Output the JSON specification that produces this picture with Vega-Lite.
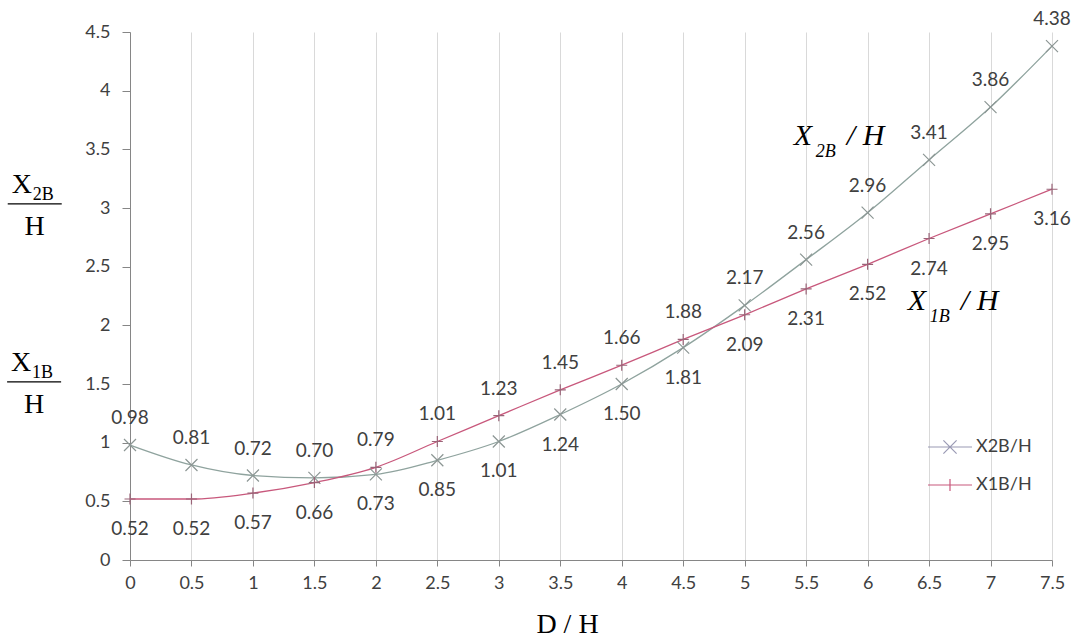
{
  "$schema": "https://vega.github.io/schema/vega-lite/v6.json",
  "width": 922,
  "height": 528,
  "autosize": {"type": "none"},
  "padding": {"left": 130, "top": 32, "right": 32, "bottom": 79},
  "background": "white",
  "config": {"view": {"stroke": null}, "font": "Lato"},
  "datasets": {
    "series": [
      {"d": 0, "series": "X2B/H", "v": 0.98}, {"d": 0.5, "series": "X2B/H", "v": 0.81},
      {"d": 1, "series": "X2B/H", "v": 0.72}, {"d": 1.5, "series": "X2B/H", "v": 0.70},
      {"d": 2, "series": "X2B/H", "v": 0.73}, {"d": 2.5, "series": "X2B/H", "v": 0.85},
      {"d": 3, "series": "X2B/H", "v": 1.01}, {"d": 3.5, "series": "X2B/H", "v": 1.24},
      {"d": 4, "series": "X2B/H", "v": 1.50}, {"d": 4.5, "series": "X2B/H", "v": 1.81},
      {"d": 5, "series": "X2B/H", "v": 2.17}, {"d": 5.5, "series": "X2B/H", "v": 2.56},
      {"d": 6, "series": "X2B/H", "v": 2.96}, {"d": 6.5, "series": "X2B/H", "v": 3.41},
      {"d": 7, "series": "X2B/H", "v": 3.86}, {"d": 7.5, "series": "X2B/H", "v": 4.38},
      {"d": 0, "series": "X1B/H", "v": 0.52}, {"d": 0.5, "series": "X1B/H", "v": 0.52},
      {"d": 1, "series": "X1B/H", "v": 0.57}, {"d": 1.5, "series": "X1B/H", "v": 0.66},
      {"d": 2, "series": "X1B/H", "v": 0.79}, {"d": 2.5, "series": "X1B/H", "v": 1.01},
      {"d": 3, "series": "X1B/H", "v": 1.23}, {"d": 3.5, "series": "X1B/H", "v": 1.45},
      {"d": 4, "series": "X1B/H", "v": 1.66}, {"d": 4.5, "series": "X1B/H", "v": 1.88},
      {"d": 5, "series": "X1B/H", "v": 2.09}, {"d": 5.5, "series": "X1B/H", "v": 2.31},
      {"d": 6, "series": "X1B/H", "v": 2.52}, {"d": 6.5, "series": "X1B/H", "v": 2.74},
      {"d": 7, "series": "X1B/H", "v": 2.95}, {"d": 7.5, "series": "X1B/H", "v": 3.16}
    ],
    "anno": [
      {"d": 5.40, "v": 3.538, "sub": "2B"},
      {"d": 6.327, "v": 2.131, "sub": "1B"}
    ],
    "frac": [
      {"d": -0.775, "v": 3.035, "sub": "2B"},
      {"d": -0.78, "v": 1.5175, "sub": "1B"}
    ]
  },
  "layer": [
    {
      "data": {"name": "series"},
      "transform": [{"filter": "datum.series === 'X2B/H'"}],
      "mark": {"type": "line", "interpolate": "monotone", "strokeWidth": 1.3, "color": "#8fa39e"},
      "encoding": {
        "x": {
          "field": "d", "type": "quantitative",
          "scale": {"domain": [0, 7.5], "nice": false, "zero": false},
          "axis": {
            "values": [0, 0.5, 1, 1.5, 2, 2.5, 3, 3.5, 4, 4.5, 5, 5.5, 6, 6.5, 7, 7.5],
            "format": "~g",
            "grid": true, "gridColor": "#d9d9d9", "gridWidth": 1,
            "domainColor": "#868686", "tickColor": "#868686", "tickSize": 6,
            "labelFont": "Lato", "labelFontSize": 18, "labelColor": "#404040", "labelPadding": 8,
            "labelFlush": false,
            "title": "D / H", "titleFont": "Liberation Serif", "titleFontSize": 28,
            "titleFontWeight": "normal", "titleColor": "#000000", "titlePadding": 18,
            "titleX": 437, "titleAnchor": null
          }
        },
        "y": {
          "field": "v", "type": "quantitative",
          "scale": {"domain": [0, 4.5], "nice": false},
          "axis": {
            "values": [0, 0.5, 1, 1.5, 2, 2.5, 3, 3.5, 4, 4.5],
            "format": "~g",
            "grid": false,
            "domainColor": "#868686", "tickColor": "#868686", "tickSize": 8,
            "labelFont": "Lato", "labelFontSize": 18, "labelColor": "#404040", "labelPadding": 12,
            "title": null
          }
        }
      }
    },
    {
      "data": {"name": "series"},
      "transform": [{"filter": "datum.series === 'X1B/H'"}],
      "mark": {"type": "line", "interpolate": "monotone", "strokeWidth": 1.3, "color": "#c8587c"},
      "encoding": {
        "x": {"field": "d", "type": "quantitative", "scale": {"domain": [0, 7.5], "nice": false, "zero": false}},
        "y": {"field": "v", "type": "quantitative", "scale": {"domain": [0, 4.5], "nice": false}}
      }
    },
    {
      "data": {"name": "series"},
      "transform": [{"filter": "datum.series === 'X2B/H'"}],
      "mark": {"type": "point", "shape": "M-1,-1L1,1M-1,1L1,-1", "size": 144, "filled": false, "strokeWidth": 1.2, "color": "#8c9694", "opacity": 1},
      "encoding": {
        "x": {"field": "d", "type": "quantitative", "scale": {"domain": [0, 7.5], "nice": false, "zero": false}},
        "y": {"field": "v", "type": "quantitative", "scale": {"domain": [0, 4.5], "nice": false}}
      }
    },
    {
      "data": {"name": "series"},
      "transform": [{"filter": "datum.series === 'X1B/H'"}],
      "mark": {"type": "point", "shape": "M-1,0L1,0M0,-1L0,1", "size": 121, "filled": false, "strokeWidth": 1.2, "color": "#9a6478", "opacity": 1},
      "encoding": {
        "x": {"field": "d", "type": "quantitative", "scale": {"domain": [0, 7.5], "nice": false, "zero": false}},
        "y": {"field": "v", "type": "quantitative", "scale": {"domain": [0, 4.5], "nice": false}}
      }
    },
    {
      "data": {"name": "series"},
      "transform": [
        {"joinaggregate": [{"op": "max", "field": "v", "as": "vmax"}], "groupby": ["d"]},
        {"filter": "datum.v === datum.vmax"}
      ],
      "mark": {"type": "text", "dy": -27, "fontSize": 19, "font": "Lato", "color": "#404040", "baseline": "middle"},
      "encoding": {
        "x": {"field": "d", "type": "quantitative", "scale": {"domain": [0, 7.5], "nice": false, "zero": false}},
        "y": {"field": "v", "type": "quantitative", "scale": {"domain": [0, 4.5], "nice": false}},
        "text": {"field": "v", "type": "quantitative", "format": ".2f"}
      }
    },
    {
      "data": {"name": "series"},
      "transform": [
        {"joinaggregate": [{"op": "max", "field": "v", "as": "vmax"}], "groupby": ["d"]},
        {"filter": "datum.v < datum.vmax"}
      ],
      "mark": {"type": "text", "dy": 30, "fontSize": 19, "font": "Lato", "color": "#404040", "baseline": "middle"},
      "encoding": {
        "x": {"field": "d", "type": "quantitative", "scale": {"domain": [0, 7.5], "nice": false, "zero": false}},
        "y": {"field": "v", "type": "quantitative", "scale": {"domain": [0, 4.5], "nice": false}},
        "text": {"field": "v", "type": "quantitative", "format": ".2f"}
      }
    },
    {
      "data": {"name": "anno"},
      "mark": {"type": "text", "align": "left", "baseline": "alphabetic", "font": "Liberation Serif", "fontStyle": "italic", "fontSize": 30, "color": "#000000"},
      "encoding": {
        "x": {"field": "d", "type": "quantitative", "scale": {"domain": [0, 7.5], "nice": false, "zero": false}},
        "y": {"field": "v", "type": "quantitative", "scale": {"domain": [0, 4.5], "nice": false}},
        "text": {"value": "X"}
      }
    },
    {
      "data": {"name": "anno"},
      "mark": {"type": "text", "align": "left", "baseline": "alphabetic", "dx": 22, "dy": 12, "font": "Liberation Serif", "fontStyle": "italic", "fontSize": 18, "color": "#000000"},
      "encoding": {
        "x": {"field": "d", "type": "quantitative", "scale": {"domain": [0, 7.5], "nice": false, "zero": false}},
        "y": {"field": "v", "type": "quantitative", "scale": {"domain": [0, 4.5], "nice": false}},
        "text": {"field": "sub", "type": "nominal"}
      }
    },
    {
      "data": {"name": "anno"},
      "mark": {"type": "text", "align": "left", "baseline": "alphabetic", "dx": 53, "font": "Liberation Serif", "fontStyle": "italic", "fontSize": 30, "color": "#000000"},
      "encoding": {
        "x": {"field": "d", "type": "quantitative", "scale": {"domain": [0, 7.5], "nice": false, "zero": false}},
        "y": {"field": "v", "type": "quantitative", "scale": {"domain": [0, 4.5], "nice": false}},
        "text": {"value": "/ H"}
      }
    },
    {
      "data": {"name": "frac"},
      "mark": {"type": "text", "align": "left", "baseline": "alphabetic", "dx": -23, "dy": -11, "font": "Liberation Serif", "fontSize": 28, "color": "#000000"},
      "encoding": {
        "x": {"field": "d", "type": "quantitative", "scale": {"domain": [0, 7.5], "nice": false, "zero": false}},
        "y": {"field": "v", "type": "quantitative", "scale": {"domain": [0, 4.5], "nice": false}},
        "text": {"value": "X"}
      }
    },
    {
      "data": {"name": "frac"},
      "mark": {"type": "text", "align": "left", "baseline": "alphabetic", "dx": -2, "dy": -4, "font": "Liberation Serif", "fontSize": 18, "color": "#000000"},
      "encoding": {
        "x": {"field": "d", "type": "quantitative", "scale": {"domain": [0, 7.5], "nice": false, "zero": false}},
        "y": {"field": "v", "type": "quantitative", "scale": {"domain": [0, 4.5], "nice": false}},
        "text": {"field": "sub", "type": "nominal"}
      }
    },
    {
      "data": {"name": "frac"},
      "mark": {"type": "text", "align": "center", "baseline": "alphabetic", "dy": 31, "font": "Liberation Serif", "fontSize": 28, "color": "#000000"},
      "encoding": {
        "x": {"field": "d", "type": "quantitative", "scale": {"domain": [0, 7.5], "nice": false, "zero": false}},
        "y": {"field": "v", "type": "quantitative", "scale": {"domain": [0, 4.5], "nice": false}},
        "text": {"value": "H"}
      }
    },
    {
      "data": {"name": "frac"},
      "mark": {"type": "rule", "xOffset": -27, "x2Offset": 27, "color": "#000000", "strokeWidth": 1.2},
      "encoding": {
        "x": {"field": "d", "type": "quantitative", "scale": {"domain": [0, 7.5], "nice": false, "zero": false}},
        "x2": {"field": "d"},
        "y": {"field": "v", "type": "quantitative", "scale": {"domain": [0, 4.5], "nice": false}}
      }
    },
    {
      "data": {"name": "series"},
      "transform": [{"filter": "datum.v > 100"}],
      "mark": {"type": "point", "filled": false, "strokeWidth": 1.2, "opacity": 1},
      "encoding": {
        "color": {
          "field": "series", "type": "nominal",
          "scale": {"domain": ["X2B/H", "X1B/H"], "range": ["#9a9ab4", "#c8587c"]},
          "legend": {
            "orient": "none", "legendX": 797, "legendY": 392, "title": null,
            "symbolSize": 1936, "symbolStrokeWidth": 1.2, "symbolFillColor": "transparent",
            "labelFont": "Lato", "labelFontSize": 18, "labelColor": "#404040",
            "labelOffset": 3, "rowPadding": 6, "padding": 0
          }
        },
        "shape": {
          "field": "series", "type": "nominal",
          "scale": {
            "domain": ["X2B/H", "X1B/H"],
            "range": [
              "M-1,0L1,0M-0.3,-0.3L0.3,0.3M-0.3,0.3L0.3,-0.3",
              "M-1,0L1,0M0,-0.27L0,0.27"
            ]
          },
          "legend": {
            "orient": "none", "legendX": 797, "legendY": 392, "title": null,
            "symbolSize": 1936, "symbolStrokeWidth": 1.2, "symbolFillColor": "transparent",
            "labelFont": "Lato", "labelFontSize": 18, "labelColor": "#404040",
            "labelOffset": 3, "rowPadding": 6, "padding": 0
          }
        }
      }
    }
  ]
}
